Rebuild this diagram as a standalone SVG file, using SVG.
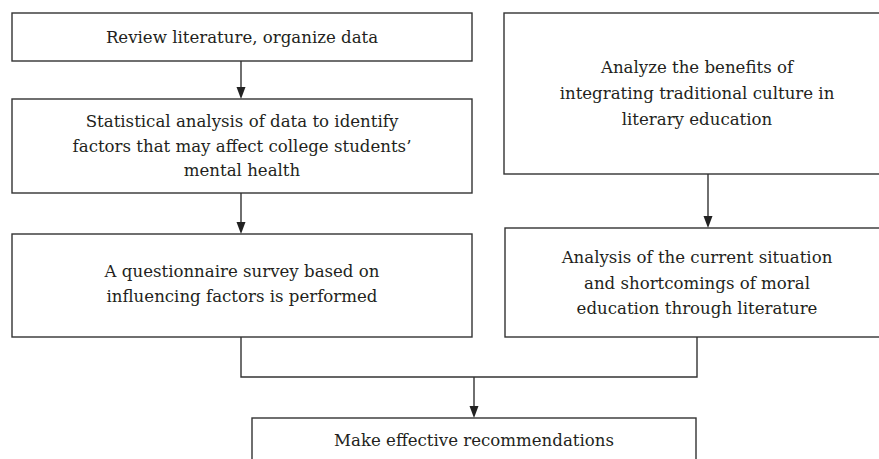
<svg xmlns="http://www.w3.org/2000/svg" width="879" height="459" viewBox="0 0 879 459">
<defs>
<style>
.box{fill:#fff;stroke:#333;stroke-width:1.4}
.lbl{font-family:"DejaVu Serif","Liberation Serif",serif;font-size:16.6px;fill:#231f20;text-anchor:middle}
.con{fill:none;stroke:#333;stroke-width:1.4}
.ah{fill:#222}
</style>
</defs>
<rect width="879" height="459" fill="#fff"/>
<g id="connectors">
<line class="con" x1="241" y1="61" x2="241" y2="87"/>
<path class="ah" d="M236.5,87 L245.5,87 L241,99 Z"/>
<line class="con" x1="241" y1="193" x2="241" y2="222"/>
<path class="ah" d="M236.5,222 L245.5,222 L241,234 Z"/>
<line class="con" x1="708" y1="174" x2="708" y2="216"/>
<path class="ah" d="M703.5,216 L712.5,216 L708,228 Z"/>
<polyline class="con" points="241,337 241,377 697,377 697,337"/>
<line class="con" x1="474" y1="377" x2="474" y2="406"/>
<path class="ah" d="M469.5,406 L478.5,406 L474,418 Z"/>
</g>
<g id="n1">
<rect class="box" x="12" y="13" width="460" height="48"/>
<text class="lbl" x="242" y="43">Review literature, organize data</text>
</g>
<g id="n2">
<rect class="box" x="12" y="99" width="460" height="94"/>
<text class="lbl" x="242" y="127">Statistical analysis of data to identify</text>
<text class="lbl" x="242" y="152">factors that may affect college students’</text>
<text class="lbl" x="242" y="176">mental health</text>
</g>
<g id="n3">
<rect class="box" x="12" y="234" width="460" height="103"/>
<text class="lbl" x="242" y="277">A questionnaire survey based on</text>
<text class="lbl" x="242" y="302">influencing factors is performed</text>
</g>
<g id="n4">
<rect class="box" x="504" y="13" width="390" height="161"/>
<text class="lbl" x="697" y="73">Analyze the benefits of</text>
<text class="lbl" x="697" y="99">integrating traditional culture in</text>
<text class="lbl" x="697" y="125">literary education</text>
</g>
<g id="n5">
<rect class="box" x="505" y="228" width="390" height="109"/>
<text class="lbl" x="697" y="263">Analysis of the current situation</text>
<text class="lbl" x="697" y="289">and shortcomings of moral</text>
<text class="lbl" x="697" y="314">education through literature</text>
</g>
<g id="n6">
<rect class="box" x="252" y="418" width="444" height="60"/>
<text class="lbl" x="474" y="446">Make effective recommendations</text>
</g>
</svg>
